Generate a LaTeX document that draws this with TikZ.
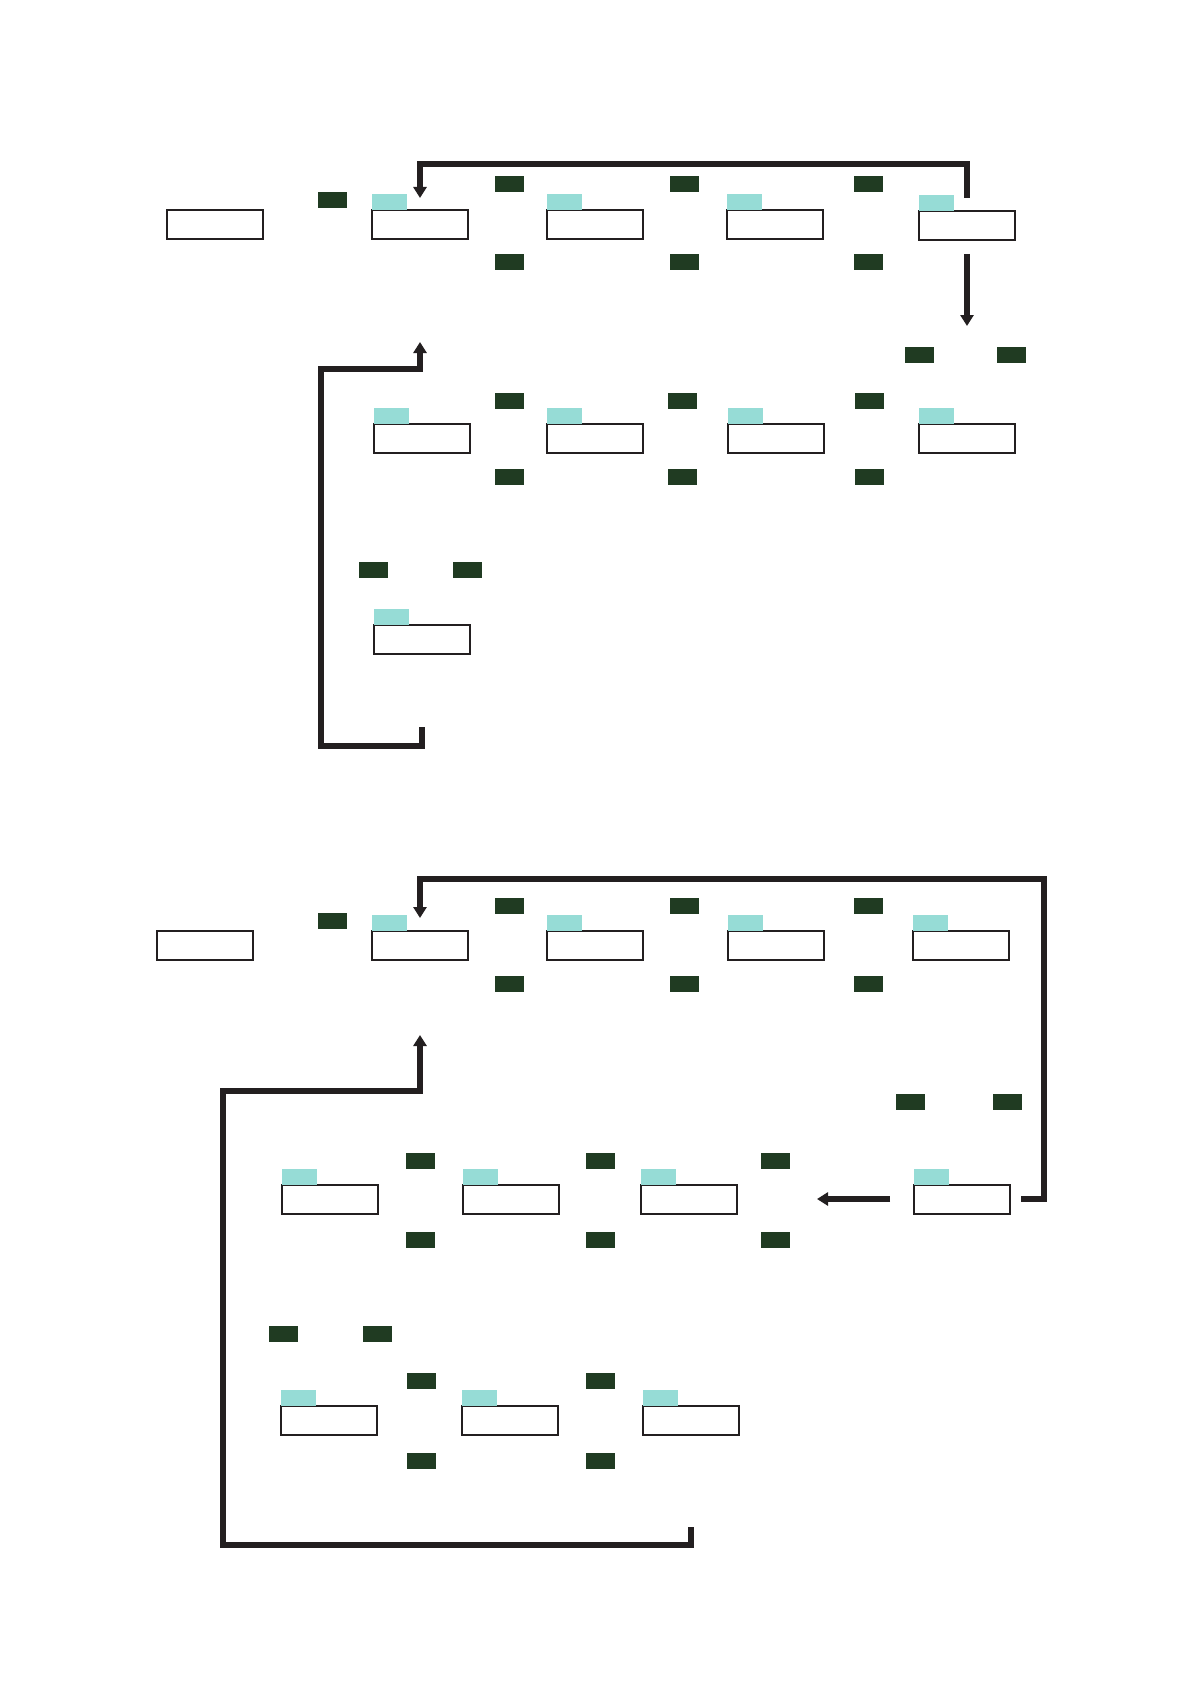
\documentclass[tikz,border=0pt]{standalone}
\usetikzlibrary{arrows.meta}
\definecolor{linec}{RGB}{35,31,32}
\definecolor{dgreen}{RGB}{32,59,34}
\definecolor{cyanc}{RGB}{150,220,214}
\begin{document}
\begin{tikzpicture}[x=0.5pt,y=-0.5pt,
  box/.style={draw=linec, line width=1pt, fill=white, minimum width=48pt, minimum height=14.5pt, inner sep=0pt, outer sep=0pt, anchor=north west},
  tab/.style={fill=cyanc, minimum width=17.5pt, minimum height=8pt, inner sep=0pt, outer sep=0pt, anchor=south west},
  dg/.style={fill=dgreen, minimum width=14.5pt, minimum height=8pt, inner sep=0pt, outer sep=0pt, anchor=north west},
  conn/.style={draw=linec, line width=2.7pt, line join=miter},
  arr/.style={conn, -{Triangle[length=5.5pt,width=6.5pt]}}]
\useasboundingbox[fill=white] (0,0) rectangle (1192,1685);
% ================= TOP SECTION =================
\node[box] (a0) at (167,210) {};
\node[dg] (ag0) at (318,192) {};
% row 1
\node[box] (a11) at (372,210) {};
\node[box] (a12) at (547,210) {};
\node[box] (a13) at (727,210) {};
\node[box] (a14) at (919,211) {};
\node[tab] (ac11) at (a11.north west) {};
\node[tab] (ac12) at (a12.north west) {};
\node[tab] (ac13) at (a13.north west) {};
\node[tab] (ac14) at (a14.north west) {};
\node[dg] (ag11) at (495,176) {};
\node[dg] (ag12) at (670,176) {};
\node[dg] (ag13) at (854,176) {};
\node[dg] (ag14) at (495,254) {};
\node[dg] (ag15) at (670,254) {};
\node[dg] (ag16) at (854,254) {};
\node[dg] (ap1) at (905,347) {};
\node[dg] (ap2) at (997,347) {};
% row 2
\node[box] (a21) at (374,424) {};
\node[box] (a22) at (547,424) {};
\node[box] (a23) at (728,424) {};
\node[box] (a24) at (919,424) {};
\node[tab] (ac21) at (a21.north west) {};
\node[tab] (ac22) at (a22.north west) {};
\node[tab] (ac23) at (a23.north west) {};
\node[tab] (ac24) at (a24.north west) {};
\node[dg] (ag21) at (495,393) {};
\node[dg] (ag22) at (668,393) {};
\node[dg] (ag23) at (855,393) {};
\node[dg] (ag24) at (495,469) {};
\node[dg] (ag25) at (668,469) {};
\node[dg] (ag26) at (855,469) {};
\node[dg] (aq1) at (359,562) {};
\node[dg] (aq2) at (453,562) {};
% row 3
\node[box] (a31) at (374,625) {};
\node[tab] (ac31) at (a31.north west) {};
% connectors top
\coordinate (t1s) at (967,198);
\coordinate (t1a) at (967,164);
\coordinate (t1b) at (420,164);
\coordinate (t1e) at (420,198);
\draw[arr] (t1s) -- (t1a) -- (t1b) -- (t1e);
\coordinate (t2s) at (967,254);
\coordinate (t2e) at (967,326);
\draw[arr] (t2s) -- (t2e);
\coordinate (t3s) at (422,727);
\coordinate (t3a) at (422,746);
\coordinate (t3b) at (321,746);
\coordinate (t3c) at (321,369);
\coordinate (t3d) at (420,369);
\coordinate (t3e) at (420,342);
\draw[arr] (t3s) -- (t3a) -- (t3b) -- (t3c) -- (t3d) -- (t3e);
% ================= BOTTOM SECTION =================
\node[box] (b0) at (157,931) {};
\node[dg] (bg0) at (318,913) {};
% row 1
\node[box] (b11) at (372,931) {};
\node[box] (b12) at (547,931) {};
\node[box] (b13) at (728,931) {};
\node[box] (b14) at (913,931) {};
\node[tab] (bc11) at (b11.north west) {};
\node[tab] (bc12) at (b12.north west) {};
\node[tab] (bc13) at (b13.north west) {};
\node[tab] (bc14) at (b14.north west) {};
\node[dg] (bg11) at (495,898) {};
\node[dg] (bg12) at (670,898) {};
\node[dg] (bg13) at (854,898) {};
\node[dg] (bg14) at (495,976) {};
\node[dg] (bg15) at (670,976) {};
\node[dg] (bg16) at (854,976) {};
\node[dg] (bp1) at (896,1094) {};
\node[dg] (bp2) at (993,1094) {};
% row 2
\node[box] (b21) at (282,1185) {};
\node[box] (b22) at (463,1185) {};
\node[box] (b23) at (641,1185) {};
\node[box] (b24) at (914,1185) {};
\node[tab] (bc21) at (b21.north west) {};
\node[tab] (bc22) at (b22.north west) {};
\node[tab] (bc23) at (b23.north west) {};
\node[tab] (bc24) at (b24.north west) {};
\node[dg] (bg21) at (406,1153) {};
\node[dg] (bg22) at (586,1153) {};
\node[dg] (bg23) at (761,1153) {};
\node[dg] (bg24) at (406,1232) {};
\node[dg] (bg25) at (586,1232) {};
\node[dg] (bg26) at (761,1232) {};
\node[dg] (bq1) at (269,1326) {};
\node[dg] (bq2) at (363,1326) {};
% row 3
\node[box] (b31) at (281,1406) {};
\node[box] (b32) at (462,1406) {};
\node[box] (b33) at (643,1406) {};
\node[tab] (bc31) at (b31.north west) {};
\node[tab] (bc32) at (b32.north west) {};
\node[tab] (bc33) at (b33.north west) {};
\node[dg] (bg31) at (407,1373) {};
\node[dg] (bg32) at (586,1373) {};
\node[dg] (bg33) at (407,1453) {};
\node[dg] (bg34) at (586,1453) {};
% connectors bottom
\coordinate (u1s) at (1021,1199);
\coordinate (u1a) at (1044,1199);
\coordinate (u1b) at (1044,879);
\coordinate (u1c) at (420,879);
\coordinate (u1e) at (420,918);
\draw[arr] (u1s) -- (u1a) -- (u1b) -- (u1c) -- (u1e);
\coordinate (u2s) at (890,1199);
\coordinate (u2e) at (817,1199);
\draw[arr] (u2s) -- (u2e);
\coordinate (u3s) at (691,1527);
\coordinate (u3a) at (691,1545);
\coordinate (u3b) at (223,1545);
\coordinate (u3c) at (223,1091);
\coordinate (u3d) at (420,1091);
\coordinate (u3e) at (420,1035);
\draw[arr] (u3s) -- (u3a) -- (u3b) -- (u3c) -- (u3d) -- (u3e);
\end{tikzpicture}
\end{document}
